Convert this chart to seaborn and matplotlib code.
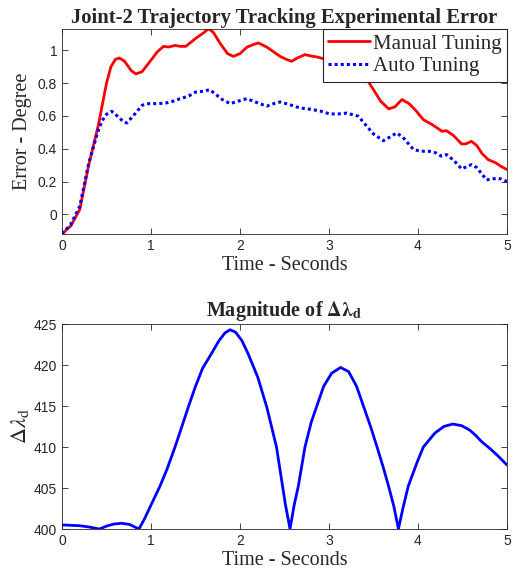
import numpy as np
import pandas as pd
import seaborn as sns
import matplotlib
matplotlib.use("Agg")
import matplotlib.pyplot as plt

# ---- data: top panel ----
t_err = [0, 0.1, 0.2, 0.3, 0.41, 0.5, 0.55, 0.6, 0.645, 0.7, 0.78, 0.83, 0.9, 1.0, 1.07,
         1.14, 1.2, 1.27, 1.33, 1.39, 1.45, 1.52, 1.6, 1.645, 1.7, 1.78, 1.86, 1.925,
         2.0, 2.08, 2.15, 2.206, 2.3, 2.38, 2.45, 2.52, 2.58, 2.65, 2.73, 2.8, 2.86,
         2.93, 3.0, 3.1, 3.2, 3.3, 3.44, 3.5, 3.58, 3.67, 3.74, 3.82, 3.9, 3.98, 4.06,
         4.15, 4.22, 4.27, 4.32, 4.4, 4.49, 4.54, 4.6, 4.66, 4.72, 4.79, 4.87, 4.94, 5.0]
manual = [-0.12, -0.07, 0.03, 0.30, 0.547, 0.80, 0.90, 0.945, 0.953, 0.935, 0.875, 0.856,
          0.87, 0.94, 0.99, 1.024, 1.02, 1.03, 1.024, 1.024, 1.05, 1.08, 1.11, 1.132, 1.11,
          1.04, 0.98, 0.963, 0.98, 1.02, 1.035, 1.045, 1.02, 0.99, 0.963, 0.945, 0.933,
          0.955, 0.974, 0.965, 0.96, 0.95, 0.93, 0.91, 0.90, 0.88, 0.81, 0.76, 0.69, 0.643,
          0.655, 0.70, 0.675, 0.63, 0.577, 0.55, 0.525, 0.506, 0.51, 0.48, 0.429, 0.43,
          0.445, 0.42, 0.37, 0.333, 0.315, 0.29, 0.273]
t_auto = [0, 0.1, 0.2, 0.3, 0.4, 0.45, 0.5, 0.558, 0.62, 0.68, 0.727, 0.8, 0.9, 0.975, 1.08,
          1.18, 1.25, 1.326, 1.42, 1.5, 1.58, 1.66, 1.72, 1.8, 1.89, 1.98, 2.075, 2.15,
          2.22, 2.3, 2.38, 2.45, 2.55, 2.67, 2.8, 2.9, 3.01, 3.1, 3.2, 3.33, 3.42, 3.5,
          3.61, 3.68, 3.76, 3.83, 3.95, 4.03, 4.13, 4.2, 4.26, 4.32, 4.4, 4.49, 4.6, 4.66,
          4.77, 4.83, 4.88, 4.94, 5.0]
auto = [-0.12, -0.06, 0.05, 0.31, 0.50, 0.57, 0.61, 0.628, 0.60, 0.57, 0.557, 0.60, 0.665,
        0.675, 0.675, 0.68, 0.69, 0.705, 0.72, 0.745, 0.75, 0.76, 0.735, 0.70, 0.675, 0.69,
        0.705, 0.69, 0.675, 0.66, 0.675, 0.685, 0.67, 0.649, 0.64, 0.63, 0.612, 0.612,
        0.617, 0.598, 0.54, 0.49, 0.449, 0.47, 0.496, 0.47, 0.395, 0.385, 0.384, 0.375,
        0.355, 0.364, 0.33, 0.277, 0.303, 0.285, 0.21, 0.215, 0.22, 0.215, 0.20]

# ---- data: bottom panel ----
t_lam = [0, 0.2, 0.3, 0.42, 0.5, 0.58, 0.67, 0.76, 0.865, 0.93, 0.99, 1.10, 1.18, 1.27,
         1.35, 1.42, 1.5, 1.58, 1.68, 1.76, 1.83, 1.888, 1.95, 2.02, 2.09, 2.2, 2.30,
         2.41, 2.45, 2.51, 2.562, 2.61, 2.655, 2.73, 2.80, 2.86, 2.94, 3.03, 3.13, 3.22,
         3.31, 3.39, 3.47, 3.54, 3.61, 3.67, 3.73, 3.78, 3.83, 3.89, 3.985, 4.06, 4.19,
         4.29, 4.39, 4.49, 4.58, 4.65, 4.715, 4.81, 4.9, 5.0]
dlam = [400.5, 400.4, 400.25, 400.0, 400.35, 400.6, 400.7, 400.55, 400.0, 401.3, 402.7,
        405.2, 407.3, 410.0, 412.6, 414.9, 417.4, 419.6, 421.4, 422.9, 423.9, 424.3,
        424.0, 423.0, 421.4, 418.5, 414.9, 410.0, 407.2, 403.0, 400.0, 403.0, 405.2,
        410.0, 413.0, 414.9, 417.4, 419.0, 419.7, 419.2, 417.4, 414.9, 412.4, 410.0,
        407.5, 405.2, 402.7, 400.0, 402.5, 405.2, 408.0, 410.0, 411.7, 412.5, 412.8,
        412.6, 412.07, 411.4, 410.65, 409.8, 408.9, 407.8]

sns.set_theme(style="ticks")
plt.rcParams["font.family"] = ["Liberation Serif", "DejaVu Serif"]
plt.rcParams["mathtext.fontset"] = "stix"

fig = plt.figure(figsize=(5.15, 5.8), dpi=100)
ax1 = fig.add_axes([62 / 515, 1 - 234 / 580, 445 / 515, 205 / 580])
ax2 = fig.add_axes([62 / 515, 1 - 529 / 580, 445 / 515, 205 / 580])

df_m = pd.DataFrame({"t": t_err, "v": manual})
df_a = pd.DataFrame({"t": t_auto, "v": auto})
df_l = pd.DataFrame({"t": t_lam, "v": dlam})

sns.lineplot(data=df_m, x="t", y="v", ax=ax1, color="#ff0000", lw=2.0, label="Manual Tuning")
sns.lineplot(data=df_a, x="t", y="v", ax=ax1, color="#0000ff", lw=2.2, ls=(0, (1, 1)),
             label="Auto Tuning")
sns.lineplot(data=df_l, x="t", y="v", ax=ax2, color="#0000ff", lw=2.0)

for ax in (ax1, ax2):
    ax.set_xlim(0, 5)
    ax.set_xticks([0, 1, 2, 3, 4, 5])
    ax.tick_params(direction="in", top=True, right=True, length=4, width=0.6,
                   colors="#262626", labelsize=10)
    for lab in ax.get_xticklabels() + ax.get_yticklabels():
        lab.set_fontfamily("Liberation Sans")
    for s in ax.spines.values():
        s.set_linewidth(0.6)
        s.set_color("#262626")
    ax.set_xlabel("Time - Seconds", fontsize=14.5, color="#262626", labelpad=2)

ax1.set_ylim(-0.12, 1.13)
ax1.set_yticks([0, 0.2, 0.4, 0.6, 0.8, 1])
ax1.set_yticklabels(["0", "0.2", "0.4", "0.6", "0.8", "1"], fontfamily="Liberation Sans")
ax1.set_ylabel("Error - Degree", fontsize=14.5, color="#262626", labelpad=4)
ax1.set_title("Joint-2 Trajectory Tracking Experimental Error", fontsize=14.9,
              fontweight="bold", pad=4)
leg = ax1.legend(loc="upper right", fontsize=15, frameon=True, fancybox=False,
                 borderaxespad=0, borderpad=0.25, handlelength=2.0, handletextpad=0.15,
                 labelspacing=0.15)
leg.get_frame().set_edgecolor("#262626")
leg.get_frame().set_linewidth(0.8)
leg.get_frame().set_alpha(1)

ax2.set_ylim(400, 425)
ax2.set_yticks([400, 405, 410, 415, 420, 425])
ax2.set_yticklabels(["400", "405", "410", "415", "420", "425"], fontfamily="Liberation Sans")
ax2.set_ylabel(r"$\Delta\lambda_{\mathrm{d}}$", fontsize=16, color="#262626", labelpad=2)
ax2.set_title(r"Magnitude of $\mathbf{\Delta}\boldsymbol{\lambda}_{\mathbf{d}}$",
              fontsize=14.5, fontweight="bold", pad=6)

fig.savefig("out.png", dpi=100)
